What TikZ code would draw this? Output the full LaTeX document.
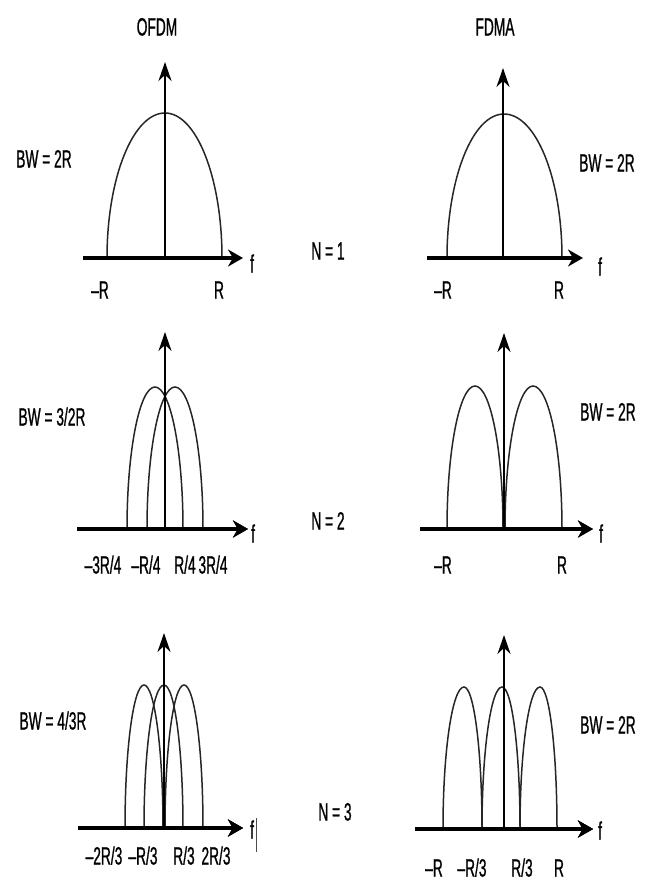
\documentclass[tikz,border=0pt]{standalone}
\usepackage{fontspec}
\setmainfont{Liberation Sans}[FakeStretch=0.55,FakeBold=0.8]
\usepackage{tikz}
\usetikzlibrary{positioning,arrows.meta}

% one lobe: left foot, peak, right foot, base, top
\newcommand{\sublobe}[5]{%
  \pgfmathsetmacro\lobecy{#4+0.552*(#5-#4)}
  \draw[lobe] (#1,#4) .. controls (#1,\lobecy) and ({#2-0.552*(#2-#1)},#5) .. (#2,#5)
    .. controls ({#2+0.552*(#3-#2)},#5) and (#3,\lobecy) .. (#3,#4);}

\begin{document}
\begin{tikzpicture}[x=1pt, y=-1pt, font=\fontsize{25}{29}\selectfont,
  lbl/.style={inner sep=0pt, text height=17pt, text depth=0pt},
  lobe/.style={line width=1.5pt, black!85},
  haxis/.style={line width=4.5pt, -{Stealth[length=15pt,width=17pt]}},
  vaxis/.style={line width=2.5pt, -{Stealth[length=19pt,width=13pt]}}]
  \useasboundingbox (0,0) rectangle (653,881);
  % titles
  \node[lbl] (ofdm) at (157,27) {OFDM};
  \node[lbl] (fdma) at (495,27) {FDMA};
  % N labels
  \node[lbl] (n1) at (328,251) {N = 1};
  \node[lbl] (n2) at (328,521) {N = 2};
  \node[lbl] (n3) at (335,812) {N = 3};

  % OFDM, N=1
  \sublobe{107}{165}{222}{258}{113}
  \draw[haxis] (83,258) -- (243,258);
  \draw[vaxis] (165,258) -- (165,62);
  \node[lbl] (bw1) at (44,159) {BW = 2R};
  \node[lbl] (f1) at (252,264) {f};
  \node[lbl] (a1l) at (100,290) {\textendash R};
  \node[lbl] (a1r) at (219,290) {R};

  % FDMA, N=1
  \sublobe{447}{504}{562}{258}{114}
  \draw[haxis] (427,258) -- (583,258);
  \draw[vaxis] (503,258) -- (503,68);
  \node[lbl] (bw2) at (607,163) {BW = 2R};
  \node[lbl] (f2) at (600,267) {f};
  \node[lbl] (b1l) at (443,290) {\textendash R};
  \node[lbl] (b1r) at (559,290) {R};

  % OFDM, N=2
  \foreach \l/\p/\r in {127/155/183, 147/175/203}
    \sublobe{\l}{\p}{\r}{529}{387}
  \draw[haxis] (77,529) -- (248,529);
  \draw[vaxis] (165,529) -- (165,332);
  \node[lbl] (bw3) at (52,417) {BW = 3/2R};
  \node[lbl] (f3) at (253,534) {f};
  \foreach \x/\t [count=\i] in {103/{\textendash 3R/4}, 146/{\textendash R/4}, 185/{R/4}, 213/{3R/4}}
    \node[lbl] (a2\i) at (\x,565) {\t};

  % FDMA, N=2
  \foreach \l/\p/\r in {447/475/503, 505/533/562}
    \sublobe{\l}{\p}{\r}{529}{386}
  \draw[haxis] (420,529) -- (593,529);
  \draw[vaxis] (504,529) -- (504,333);
  \node[lbl] (bw4) at (608,412) {BW = 2R};
  \node[lbl] (f4) at (601,534) {f};
  \node[lbl] (b2l) at (443,565) {\textendash R};
  \node[lbl] (b2r) at (562,565) {R};

  % OFDM, N=3
  \foreach \l/\p/\r in {125/144/163, 144/164/183, 165/184/203}
    \sublobe{\l}{\p}{\r}{828}{685}
  \draw[haxis] (78,828) -- (243,828);
  \draw[vaxis] (164,828) -- (164,633);
  \node[lbl] (bw5) at (53,721) {BW = 4/3R};
  \node[lbl] (f5) at (252,830) {f};
  \draw[line width=1pt, black!70] (256,818) -- (256,852);
  \foreach \x/\t [count=\i] in {104/{\textendash 2R/3}, 143/{\textendash R/3}, 184/{R/3}, 216/{2R/3}}
    \node[lbl] (a3\i) at (\x,856) {\t};

  % FDMA, N=3
  \foreach \l/\p/\r in {443/464/482, 482/502/520, 520/540/557}
    \sublobe{\l}{\p}{\r}{829}{687}
  \draw[haxis] (415,829) -- (593,829);
  \draw[vaxis] (504,829) -- (504,635);
  \node[lbl] (bw6) at (608,725) {BW = 2R};
  \node[lbl] (f6) at (600,831) {f};
  \foreach \x/\t [count=\i] in {434/{\textendash R}, 472/{\textendash R/3}, 522/{R/3}, 559/{R}}
    \node[lbl] (b3\i) at (\x,868) {\t};
\end{tikzpicture}
\end{document}
